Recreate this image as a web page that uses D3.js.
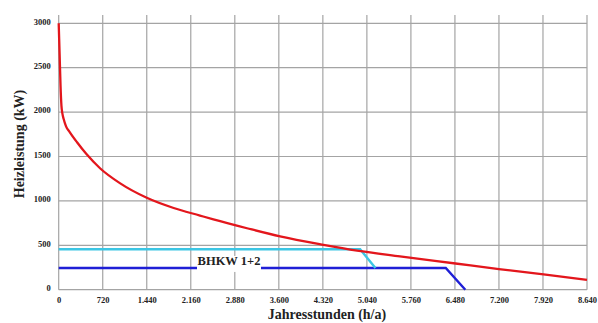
<!DOCTYPE html>
<html>
<head>
<meta charset="utf-8">
<script src="https://cdn.jsdelivr.net/npm/d3@7"></script>
<style>
  html, body { margin: 0; padding: 0; background: #fff; }
  svg { display: block; }
  text { font-family: "Liberation Serif", "DejaVu Serif", serif; font-weight: bold; fill: #222; }
</style>
</head>
<body>
<svg id="chart" width="598" height="323"></svg>
<script>
// Annual heat load duration curve (Jahresdauerlinie) with CHP coverage
const xTicks = [0, 720, 1440, 2160, 2880, 3600, 4320, 5040, 5760, 6480, 7200, 7920, 8640];
const xTickLabels = ["0", "720", "1.440", "2.160", "2.880", "3.600", "4.320", "5.040", "5.760", "6.480", "7.200", "7.920", "8.640"];
const yTicks = [0, 500, 1000, 1500, 2000, 2500, 3000];
const yTickLabels = ["0", "500", "1000", "1500", "2000", "2500", "3000"];

// Heat demand (kW) over sorted annual hours
const loadHours = [0, 15, 30, 45, 60, 80, 120, 180, 300, 450, 680, 1000, 1440, 1880, 2310, 2530, 3080, 3620, 4330, 4880, 5580, 6490, 7200, 7930, 8640];
const loadKW    = [3000, 2650, 2300, 2070, 1985, 1925, 1840, 1775, 1660, 1530, 1365, 1200, 1035, 920, 835, 792, 692, 600, 505, 440, 375, 295, 232, 172, 110];

// CHP units: combined output (cyan) and single unit (blue)
const chp2Hours = [0, 4930, 5180];
const chp2KW    = [455, 455, 245];
const chp1Hours = [0, 6330, 6650];
const chp1KW    = [245, 245, 0];
const chpLabel = "BHKW 1+2";

const svg = d3.select("#chart");
const x = d3.scaleLinear().domain([0, 8640]).range([58.7, 587]);
const y = d3.scaleLinear().domain([0, 3000]).range([289.7, 23.3]);

// grid
const grid = svg.append("g").attr("stroke", "#a4a4a4").attr("stroke-width", 1.2);
grid.selectAll("line.v").data(xTicks).join("line")
  .attr("x1", d => x(d)).attr("x2", d => x(d))
  .attr("y1", 15).attr("y2", y(0));
grid.selectAll("line.h").data(yTicks).join("line")
  .attr("x1", x(0)).attr("x2", x(8640))
  .attr("y1", d => y(d)).attr("y2", d => y(d));

// axes (labels only, lines come from the grid)
const xAxis = svg.append("g").attr("transform", `translate(0,${y(0)})`)
  .call(d3.axisBottom(x).tickValues(xTicks).tickSize(0).tickPadding(7.5)
    .tickFormat((d, i) => xTickLabels[i]));
const yAxis = svg.append("g").attr("transform", `translate(${x(0)},0)`)
  .call(d3.axisLeft(y).tickValues(yTicks).tickSize(0).tickPadding(8)
    .tickFormat((d, i) => yTickLabels[i]));
[xAxis, yAxis].forEach(a => {
  a.select(".domain").remove();
  a.selectAll("text").attr("font-family", "Liberation Serif, serif")
    .attr("font-weight", "bold").attr("font-size", 8.5).attr("fill", "#333");
});
yAxis.selectAll("text").attr("dy", "0.1em");

const line = d3.line().x(d => x(d[0])).y(d => y(d[1]));

// blue: one unit
svg.append("path")
  .datum(d3.zip(chp1Hours, chp1KW))
  .attr("d", line).attr("fill", "none")
  .attr("stroke", "#1f1fd6").attr("stroke-width", 2.4);

// cyan: both units
svg.append("path")
  .datum(d3.zip(chp2Hours, chp2KW))
  .attr("d", line).attr("fill", "none")
  .attr("stroke", "#3cc6e4").attr("stroke-width", 2.4);

// demand curve
svg.append("path")
  .datum(d3.zip(loadHours, loadKW))
  .attr("d", line.curve(d3.curveMonotoneX)).attr("fill", "none")
  .attr("stroke", "#e3161c").attr("stroke-width", 2.3);

// label over the blue line
const lbl = svg.append("g").attr("transform", `translate(${(x(2250) + x(3320)) / 2},${y(245)})`);
lbl.append("rect").attr("x", -32).attr("y", -12).attr("width", 64).attr("height", 16).attr("fill", "#fff");
lbl.append("text").attr("text-anchor", "middle").attr("y", -2.5)
  .attr("font-size", 12.5).text(chpLabel);

// axis titles
svg.append("text").attr("x", 327).attr("y", 319).attr("text-anchor", "middle")
  .attr("font-size", 14).text("Jahresstunden (h/a)");
svg.append("text").attr("transform", "translate(24,144) rotate(-90)").attr("text-anchor", "middle")
  .attr("font-size", 14).text("Heizleistung (kW)");
</script>
</body>
</html>
